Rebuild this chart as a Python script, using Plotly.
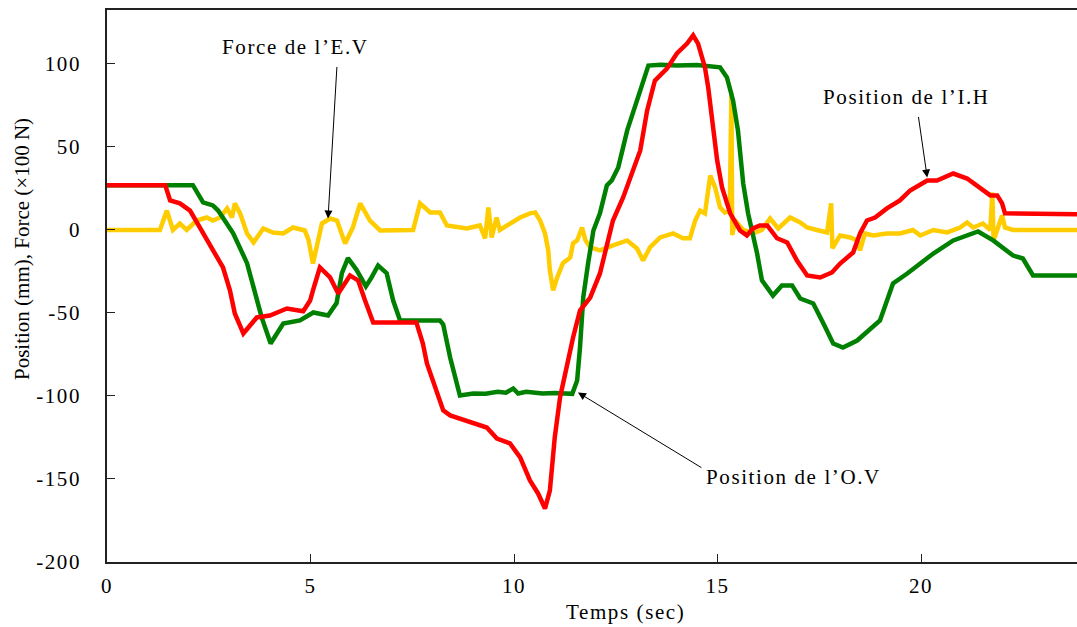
import plotly.graph_objects as go

# ---------------- data ----------------
# Position de l'O.V (green)
ov_t = [0, 2.11, 2.36, 2.6, 2.73, 3.1, 3.44, 3.6, 3.8, 4.02,
        4.33, 4.74, 5.07, 5.43, 5.64, 5.77, 5.92, 6.13, 6.36, 6.5,
        6.66, 6.87, 7.03, 7.2, 8.18, 8.26, 8.43, 8.67, 9.0, 9.3,
        9.6, 9.8, 9.98, 10.1, 10.3, 10.7, 11.0, 11.43, 11.55, 11.62,
        11.7, 11.82, 11.95, 12.11, 12.28, 12.4, 12.56, 12.78, 12.92, 13.1,
        13.3, 13.6, 14.0, 14.5, 15.06, 15.23, 15.38, 15.5, 15.63, 15.75,
        15.87, 15.97, 16.09, 16.36, 16.58, 16.83, 17.03, 17.35, 17.6, 17.84,
        18.08, 18.43, 18.99, 19.31, 19.66, 20.3, 20.79, 21.4, 21.77, 22.26,
        22.5, 22.75, 23.83]
ov_y = [27, 27, 16.6, 14.8, 11.7, -2, -20, -34.6, -52.7, -68.4,
        -56.3, -54.5, -49.7, -51.5, -44, -26, -17, -24, -34, -28.6,
        -21.4, -26, -42.5, -54.5, -54.5, -57, -76.8, -99.7, -98.5, -98.7,
        -97.5, -98, -95.5, -98.5, -97.5, -98.5, -98.2, -98.7, -90.7, -70.8,
        -40.7, -20, -0.3, 10, 26.8, 29.8, 37.7, 60, 70, 84,
        99, 99.5, 99, 99.3, 98, 91.9, 78, 60, 28, 10,
        -3, -14, -30.4, -39.5, -33.4, -33.4, -41.3, -44.3, -56.3, -68.4,
        -70.8, -66.6, -54.5, -32.2, -26.2, -14.2, -6.3, -0.9, -6.3, -15.4,
        -17.2, -27.4, -27.4]

# Position de l'I.H (red)
ih_t = [0, 1.43, 1.55, 1.79, 2.04, 2.28, 2.6, 2.85, 3.02, 3.14,
        3.35, 3.68, 4.0, 4.42, 4.82, 4.99, 5.06, 5.23, 5.48, 5.68,
        5.97, 6.17, 6.34, 6.54, 7.6, 7.76, 7.86, 8.0, 8.26, 8.43,
        9.0, 9.33, 9.58, 9.9, 10.15, 10.39, 10.59, 10.76, 10.88, 11.0,
        11.13, 11.3, 11.45, 11.62, 11.87, 12.11, 12.24, 12.43, 12.68, 12.92,
        13.1, 13.27, 13.46, 13.76, 14.0, 14.25, 14.4, 14.52, 14.69, 14.77,
        14.86, 14.99, 15.11, 15.31, 15.55, 15.72, 15.87, 16.04, 16.22, 16.46,
        16.71, 16.95, 17.2, 17.52, 17.81, 18.01, 18.33, 18.5, 18.67, 18.87,
        19.16, 19.48, 19.73, 20.15, 20.39, 20.79, 21.13, 21.45, 21.7, 21.87,
        21.99, 22.06, 23.83]
ih_y = [27, 27, 17.8, 16, 11.7, 1.5, -12.3, -22.6, -36.4, -50.3,
        -62.3, -52.7, -51.5, -47.3, -49, -42.5, -36.4, -22.6, -28.6, -38.3,
        -27.4, -30.4, -42.5, -55.7, -55.7, -68.4, -80.4, -90.7, -108.7, -111.7,
        -116, -119, -125.6, -128.6, -137, -150.9, -158.7, -167.8, -157, -125,
        -100.9, -80.4, -64.8, -48.5, -40.7, -26.2, -12.3, 5.7, 19.6, 35.8,
        47.9, 72, 90, 97.3, 106.3, 112.3, 117.2, 112.3, 97.9, 85.8,
        66, 41.9, 25.6, 10, -0.3, -3.3, 0.9, 2.7, 2.7, -5,
        -7.5, -18.4, -27.4, -28.6, -25.6, -20.2, -13.6, -2.1, 5.7, 7.5,
        13, 17.8, 23.8, 29.8, 29.8, 34, 31, 25.6, 20.8, 20.8,
        16, 10, 9.5]

# Force de l'E.V (yellow)
ev_t = [0, 1.3, 1.47, 1.62, 1.79, 1.96, 2.2, 2.45, 2.6, 2.78,
        2.95, 3.07, 3.14, 3.27, 3.44, 3.6, 3.84, 4.08, 4.33, 4.57,
        4.86, 4.95, 5.06, 5.28, 5.48, 5.65, 5.85, 6.04, 6.22, 6.46,
        6.71, 7.0, 7.52, 7.69, 7.94, 8.18, 8.35, 8.84, 9.16, 9.29,
        9.37, 9.45, 9.57, 9.65, 9.9, 10.15, 10.39, 10.52, 10.64, 10.76,
        10.84, 10.88, 10.96, 11.06, 11.2, 11.38, 11.45, 11.55, 11.67, 11.75,
        11.87, 12.11, 12.43, 12.78, 13.02, 13.17, 13.34, 13.59, 13.91, 14.15,
        14.32, 14.45, 14.57, 14.69, 14.82, 14.94, 15.06, 15.18, 15.3, 15.34,
        15.36, 15.43, 15.63, 15.87, 16.09, 16.29, 16.49, 16.78, 17.03, 17.2,
        17.44, 17.69, 17.79, 17.82, 18.01, 18.26, 18.43, 18.5, 18.62, 18.82,
        19.16, 19.48, 19.8, 19.98, 20.3, 20.64, 20.96, 21.13, 21.28, 21.52,
        21.7, 21.75, 21.78, 21.87, 21.99, 22.06, 22.26, 23.83]
ev_y = [0, 0, 11.7, 0, 3.9, 0, 5.7, 7.5, 5.7, 7.5,
        13, 7.5, 16, 10, -2.1, -7.5, 0.9, -1.5, -2.1, 1.5,
        -0.3, -6, -20.2, 3.9, 6.9, 5.7, -8.1, 1.5, 16, 5.7,
        -0.3, 0, 0, 16, 10.5, 10.5, 2.7, 0.9, 2.7, -5,
        13.6, -4.5, 7.5, 0, 3.9, 7.5, 10, 10.5, 5.7, -2.1,
        -12.3, -24.4, -36.4, -28.6, -20, -16.6, -8.1, -6.3, 1.5, -6,
        -10.5, -12.3, -9.3, -6.3, -11.1, -18.4, -10.5, -4.5, -2.1, -5,
        -5, 5.7, 11.7, 10, 32.8, 25.6, 13.6, 10.5, 11.7, 83,
        -3, 5.7, 0, -2.1, 0, 6.9, 0.9, 7.5, 4.5, 1.5,
        0, -1.5, 16, -11, -3.3, -4.5, -6.3, -12.3, -2.1, -3.3,
        -2.1, -2.1, 0, -3.3, 0, -1.5, 1.5, 4.5, 1.5, 3.9,
        0, 22.6, -6.3, 0, 8.7, 1.5, 0, 0]

assert len(ov_t) == len(ov_y)
assert len(ih_t) == len(ih_y)
assert len(ev_t) == len(ev_y)

x_ticks = [0, 5, 10, 15, 20]
x_tick_labels = ["0", "5", "10", "15", "20"]
y_ticks = [100, 50, 0, -50, -100, -150, -200]
y_tick_labels = ["100", "50", "0", "-50", "-100", "-150", "-200"]

x_title = "Temps (sec)"
y_title = "Position (mm), Force (×100 N)"
label_ev = "Force de l’E.V"
label_ih = "Position de l’I.H"
label_ov = "Position de l’O.V"

# ---------------- figure ----------------
FONT = "Liberation Serif, Times New Roman, serif"
SP = "letter-spacing:1.6px"


def spaced(s):
    return f'<span style="{SP}">{s}</span>'


fig = go.Figure()
fig.add_trace(go.Scatter(x=ev_t, y=ev_y, mode="lines",
                         line=dict(color="#FFCC00", width=4.5), name=label_ev))
fig.add_trace(go.Scatter(x=ov_t, y=ov_y, mode="lines",
                         line=dict(color="#008000", width=4.5), name=label_ov))
fig.add_trace(go.Scatter(x=ih_t, y=ih_y, mode="lines",
                         line=dict(color="#FF0000", width=4.5), name=label_ih))

fig.update_layout(
    width=1077, height=627,
    margin=dict(l=107, r=0, t=10, b=65),
    paper_bgcolor="white", plot_bgcolor="white",
    showlegend=False,
    font=dict(family=FONT, size=21, color="black"),
)
fig.update_xaxes(
    range=[0, 23.83], showgrid=False, zeroline=False,
    showline=True, linecolor="#222", linewidth=1.5, mirror=True,
    ticks="inside", ticklen=8, tickwidth=1, tickcolor="#222",
    tickvals=x_ticks, ticktext=[spaced(t) for t in x_tick_labels],
    tickfont=dict(family=FONT, size=21), ticklabelstandoff=4,
)
fig.update_yaxes(
    range=[-200, 132.5], showgrid=False, zeroline=False,
    showline=True, linecolor="#222", linewidth=1.5, mirror=False,
    ticks="inside", ticklen=8, tickwidth=1, tickcolor="#222",
    tickvals=y_ticks, ticktext=[spaced(t) for t in y_tick_labels],
    tickfont=dict(family=FONT, size=21), ticklabelstandoff=20,
)

ann = []
# axis titles
ann.append(dict(text=spaced(x_title), xref="paper", yref="paper",
                x=(625 - 107) / 970, y=(562 - 612) / 552,
                xanchor="center", yanchor="middle", showarrow=False,
                font=dict(family=FONT, size=21)))
ann.append(dict(text=y_title, xref="paper", yref="paper",
                x=(22 - 107) / 970, y=(562 - 249) / 552, textangle=-90,
                xanchor="center", yanchor="middle", showarrow=False,
                font=dict(family=FONT, size=21)))
# labels
for txt, lx, ly in [(label_ev, 4.64, 110.0), (label_ih, 19.63, 79.8),
                    (label_ov, 16.87, -149.0)]:
    ann.append(dict(text=spaced(txt), x=lx, y=ly, xref="x", yref="y",
                    xanchor="center", yanchor="middle", showarrow=False,
                    font=dict(family=FONT, size=21)))
# arrows (tail -> tip)
for (tx, ty), (hx, hy) in [((5.65, 99.1), (5.43, 6.9)),
                           ((19.93, 69.0), (20.15, 31.6)),
                           ((14.64, -143.7), (11.57, -97.9))]:
    ann.append(dict(text="", x=hx, y=hy, xref="x", yref="y",
                    ax=tx, ay=ty, axref="x", ayref="y",
                    showarrow=True, arrowhead=2, arrowsize=1.6,
                    arrowwidth=1, arrowcolor="black", standoff=0))
fig.update_layout(annotations=ann)

fig.write_html(
    "out.html",
    config={"displayModeBar": False},
    post_script="document.body.style.margin='0';"
                "document.body.style.overflow='hidden';",
)
